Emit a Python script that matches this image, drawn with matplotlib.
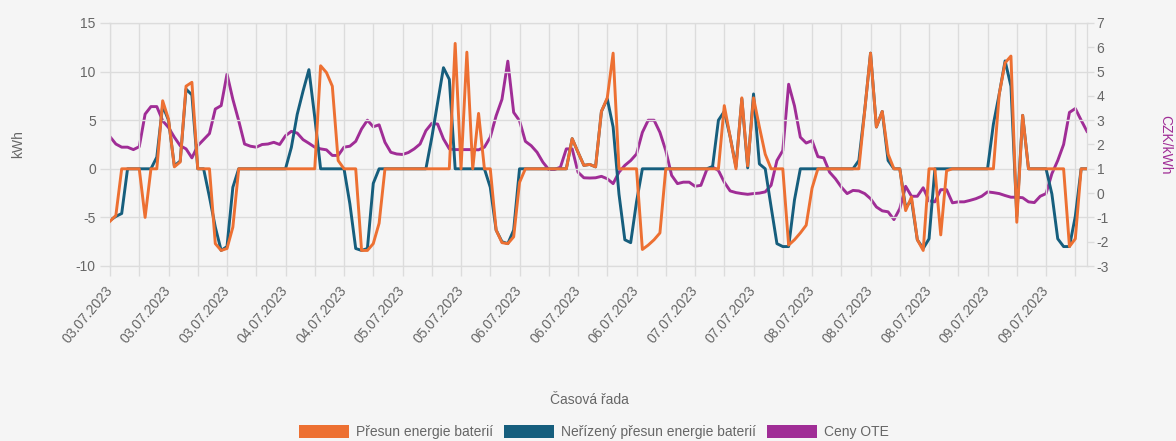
import matplotlib.pyplot as plt
import matplotlib.transforms as mtransforms
from matplotlib.patches import Patch
import numpy as np

### Data (hourly values, 03.07.2023 - 09.07.2023)

# Přesun energie baterií [kWh]
presun = [
    -5.4, -4.8, 0, 0, 0, 0, -5.0, 0, 0, 7.0,
    5.1, 0.2, 0.7, 8.5, 8.9, 0, 0, 0, -7.7, -8.4,
    -8.2, -6.0, 0, 0, 0, 0, 0, 0, 0, 0,
    0, 0, 0, 0, 0, 0, 10.6, 9.9, 8.5, 0.85,
    0, 0, 0, -8.4, -8.4, -7.7, -5.6, 0, 0, 0,
    0, 0, 0, 0, 0, 0, 0, 0, 0, 12.9,
    0, 12.0, 0, 5.7, 0, 0, -6.3, -7.6, -7.7, -7.0,
    -1.4, 0, 0, 0, 0, 0, 0, 0, 0, 3.1,
    1.7, 0.35, 0.45, 0.2, 5.9, 7.3, 11.9, 0, 0, 0,
    0, -8.3, -7.85, -7.3, -6.6, 0, 0, 0, 0, 0,
    0, 0, 0, 0, 0, 6.5, 3.3, 0, 7.3, 0.3,
    7.3, 4.3, 1.5, 0, 0, 0, -7.85, -7.3, -6.6, -5.8,
    -2.0, 0, 0, 0, 0, 0, 0, 0, 0, 6.0,
    11.9, 4.3, 5.9, 1.5, 0, 0, -4.3, -2.9, -7.3, -8.4,
    0, 0, -6.8, -0.2, 0, 0, 0, 0, 0, 0,
    0, 0, 7.7, 10.9, 11.6, -5.5, 5.5, 0, 0, 0,
    0, 0, 0, 0, -8.0, -7.2, 0, 0,
]

# Neřízený přesun energie baterií [kWh]
nerizeny = [
    -5.3, -4.9, -4.6, 0, 0, 0, 0, 0, 1.2, 6.5,
    5.0, 0.3, 0.8, 8.2, 7.6, 0, 0, -2.9, -6.0, -8.4,
    -8.0, -1.9, 0, 0, 0, 0, 0, 0, 0, 0,
    0, 2.2, 5.6, 8.0, 10.2, 5.3, 0, 0, 0, 0,
    0, -3.6, -8.2, -8.4, -8.2, -1.5, 0, 0, 0, 0,
    0, 0, 0, 0, 0, 3.2, 6.8, 10.4, 9.2, 0,
    0, 0, 0, 0, 0, -1.9, -6.3, -7.5, -7.7, -6.3,
    0, 0, 0, 0, 0, 0, 0, 0, 0, 3.1,
    1.7, 0.35, 0.45, 0.2, 5.9, 7.2, 4.3, -2.6, -7.3, -7.6,
    -3.4, 0, 0, 0, 0, 0, 0, 0, 0, 0,
    0, 0, 0, 0.24, 5.0, 5.9, 3.3, 0.2, 7.2, 0.1,
    7.7, 0.5, 0, -3.9, -7.7, -8.0, -8.0, -3.2, 0, 0,
    0, 0, 0, 0, 0, 0, 0, 0, 0.85, 6.0,
    11.9, 4.3, 5.9, 0.85, 0, 0, -4.0, -3.2, -7.3, -8.2,
    -7.2, 0, 0, 0, 0, 0, 0, 0, 0, 0,
    0, 4.6, 7.7, 11.1, 8.5, -4.9, 5.5, 0, 0, 0,
    0, -2.6, -7.2, -8.0, -8.0, -4.9, 0, 0,
]

# Ceny OTE [CZK/kWh]
ceny = [
    2.32, 2.02, 1.89, 1.89, 1.79, 1.91, 3.25, 3.56, 3.56, 2.98,
    2.7, 2.3, 1.95, 1.82, 1.45, 1.95, 2.2, 2.45, 3.46, 3.6,
    4.9, 3.86, 2.98, 2.02, 1.93, 1.89, 2.0, 2.02, 2.09, 2.0,
    2.36, 2.54, 2.47, 2.2, 2.05, 1.89, 1.82, 1.78, 1.55, 1.55,
    1.89, 1.93, 2.13, 2.64, 3.0, 2.73, 2.81, 2.09, 1.68, 1.61,
    1.59, 1.67, 1.82, 2.02, 2.57, 2.87, 2.84, 2.23, 1.82, 1.79,
    1.79, 1.79, 1.79, 1.78, 1.89, 2.3, 3.18, 3.86, 5.43, 3.32,
    2.98, 2.13, 1.95, 1.68, 1.27, 0.97, 0.97, 1.07, 1.82, 1.82,
    0.86, 0.63, 0.62, 0.63, 0.69, 0.59, 0.39, 0.86, 1.14, 1.34,
    1.61, 2.5, 3.0, 3.0, 2.5, 1.75, 0.73, 0.39, 0.45, 0.45,
    0.28, 0.32, 0.96, 1.07, 0.93, 0.45, 0.09, 0.02, -0.02, -0.05,
    -0.02, 0.0, 0.05, 0.32, 1.34, 1.75, 4.48, 3.59, 2.3, 2.06,
    2.16, 1.5, 1.45, 0.86, 0.59, 0.25, -0.02, 0.11, 0.09, -0.02,
    -0.23, -0.57, -0.73, -0.77, -1.09, -0.64, 0.28, -0.13, -0.13, 0.22,
    -0.32, -0.36, 0.14, 0.14, -0.4, -0.36, -0.36, -0.3, -0.23, -0.13,
    0.05, 0.02, -0.02, -0.1, -0.17, -0.17, -0.19, -0.36, -0.39, -0.13,
    -0.02, 0.8, 1.34, 2.0, 3.32, 3.48, 3.0, 2.54,
]

# label shown on every 10th hour
date_labels = ['03.07.2023', '03.07.2023', '03.07.2023', '04.07.2023', '04.07.2023',
               '05.07.2023', '05.07.2023', '06.07.2023', '06.07.2023', '06.07.2023',
               '07.07.2023', '07.07.2023', '08.07.2023', '08.07.2023', '08.07.2023',
               '09.07.2023', '09.07.2023']

names = ['Přesun energie baterií', 'Neřízený přesun energie baterií', 'Ceny OTE']

ORANGE = '#ED7032'
TEAL = '#165E7D'
PURPLE = '#A02D96'
BG = '#f5f5f5'
GRID = '#dcdcdc'
TXT = '#666666'

plt.rcParams['font.family'] = ['Liberation Sans', 'DejaVu Sans']
plt.rcParams['font.size'] = 10
plt.rcParams['axes.unicode_minus'] = False

hours = np.arange(len(presun))

fig = plt.figure(figsize=(11.76, 4.41), dpi=100)
fig.patch.set_facecolor(BG)
ax = fig.add_axes([110 / 1176, 1 - 266 / 441, 977 / 1176, 243 / 441])
ax2 = ax.twinx()

# price axis behind the kWh axis (first dataset on top)
ax2.set_zorder(1)
ax.set_zorder(2)
ax.patch.set_visible(False)
ax2.patch.set_facecolor(BG)

ax2.plot(hours, ceny, color=PURPLE, lw=2.1)
ax.plot(hours, nerizeny, color=TEAL, lw=2.1, zorder=2)
ax.plot(hours, presun, color=ORANGE, lw=2.1, zorder=3)

ax.set_xlim(0, len(presun) - 1)
ax.set_ylim(-10, 15)
ax2.set_ylim(-3, 7)
ax.set_yticks(range(-10, 16, 5))
ax2.set_yticks(range(-3, 8))

xt = np.arange(0, len(presun), 5)
ax.set_xticks(xt)
ax.set_xticklabels([date_labels[i // 10] if i % 10 == 0 else '' for i in xt],
                   rotation=50, ha='right', va='center', rotation_mode='anchor')
shift = mtransforms.ScaledTranslation(3 / 100, 0, fig.dpi_scale_trans)
for lab in ax.get_xticklabels():
    lab.set_transform(lab.get_transform() + shift)

ax.grid(True, color=GRID, lw=1)
ax.set_axisbelow(True)
for a in (ax, ax2):
    for s in a.spines.values():
        s.set_color(GRID)
ax.tick_params(colors=GRID, labelcolor=TXT, length=7.2, width=1)
ax.tick_params(axis='y', pad=3)
ax.tick_params(axis='x', pad=8.6)
ax2.tick_params(colors=GRID, labelcolor=TXT, length=5, width=1, pad=2)

# axis titles
ax.set_ylabel('kWh', color=TXT)
ax.yaxis.set_label_coords(-0.094, 0.5)
ax.yaxis.label.set_va('center')
ax2.set_ylabel('CZK/kWh', color=PURPLE, rotation=270)
ax2.yaxis.set_label_coords(1.08, 0.5)
ax2.yaxis.label.set_va('center')
ax.set_xlabel('Časová řada', color=TXT)
ax.xaxis.set_label_coords(0.491, -0.551)
ax.xaxis.label.set_va('center')

handles = [Patch(facecolor=c, label=n) for c, n in zip([ORANGE, TEAL, PURPLE], names)]
fig.legend(handles=handles, loc='center', bbox_to_anchor=(0.505, 1 - 432 / 441), ncol=3,
           frameon=False, handlelength=3.6, handleheight=1.08, handletextpad=0.5,
           columnspacing=0.8, labelcolor=TXT, borderpad=0, borderaxespad=0)

fig.savefig('out.png', dpi=100, facecolor=BG)
